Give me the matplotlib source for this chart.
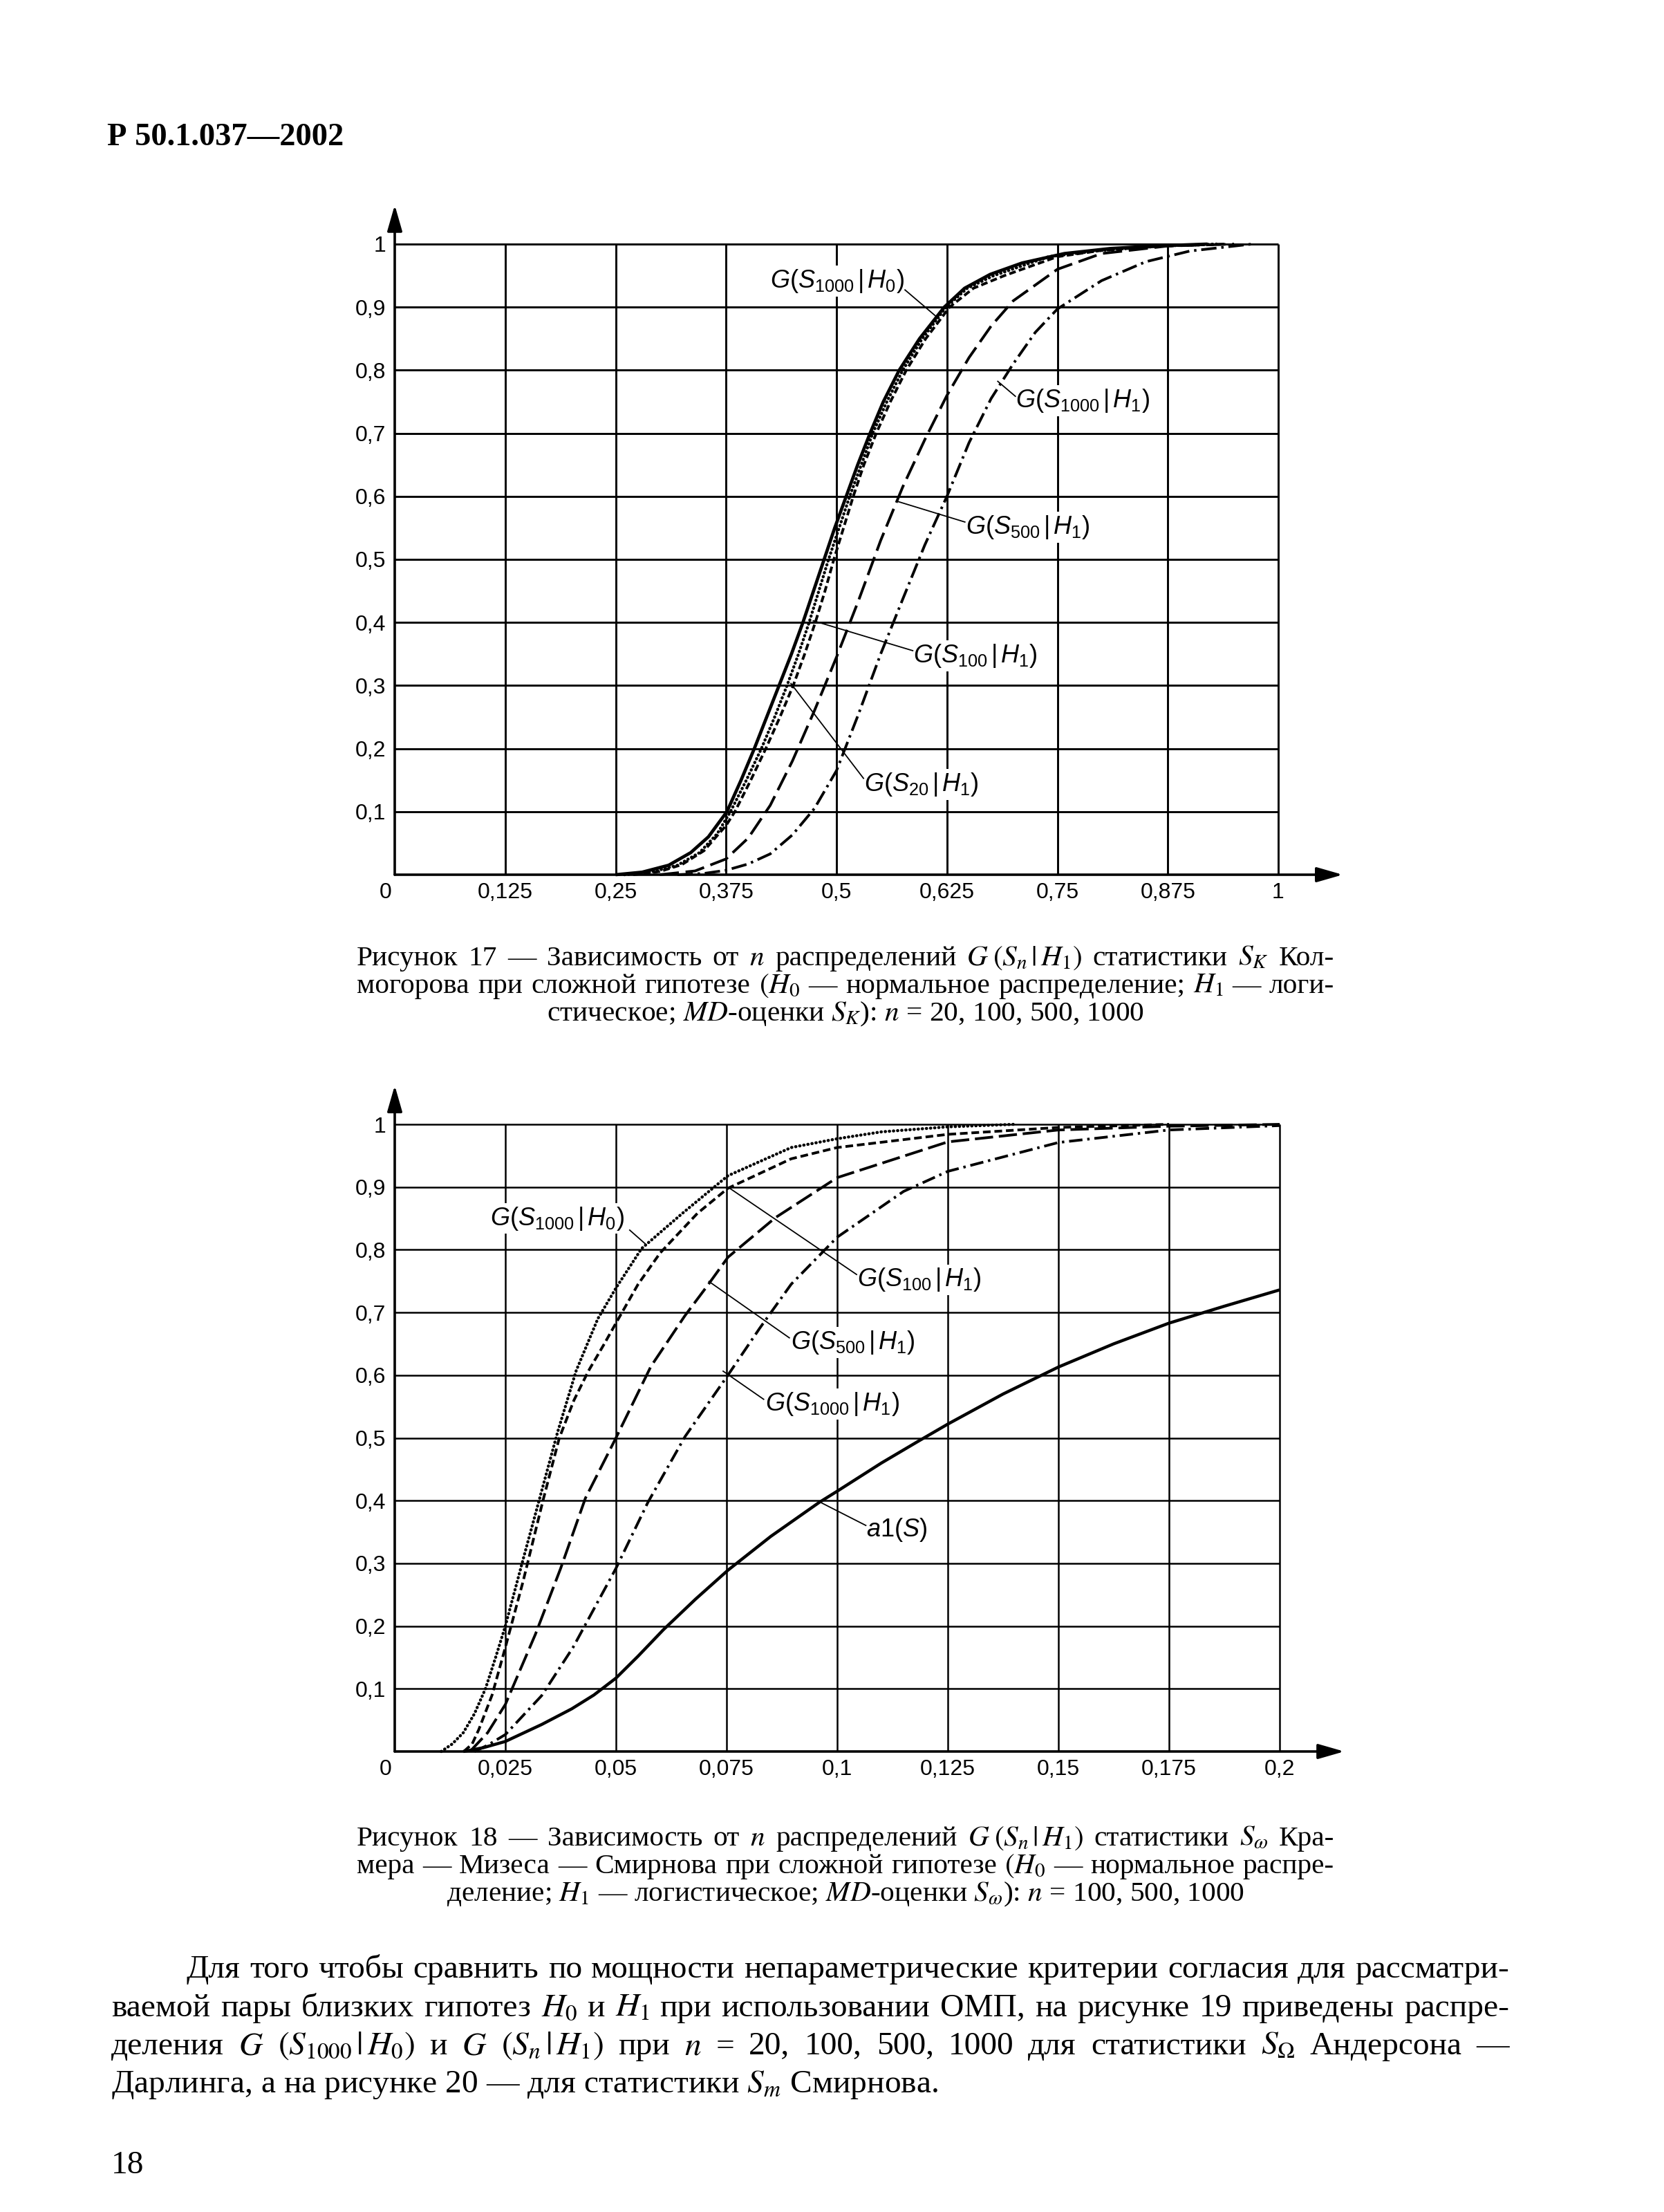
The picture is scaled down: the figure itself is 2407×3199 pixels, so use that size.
import numpy as np
import matplotlib
matplotlib.use("Agg")
import matplotlib.pyplot as plt

W, H, DPI = 2407, 3199, 100

# ---------------- data ----------------
y_ticks = [0.1, 0.2, 0.3, 0.4, 0.5, 0.6, 0.7, 0.8, 0.9, 1.0]
y_tick_labels = ["0,1", "0,2", "0,3", "0,4", "0,5", "0,6", "0,7", "0,8", "0,9", "1"]

k_x_ticks = [0.125, 0.25, 0.375, 0.5, 0.625, 0.75, 0.875, 1.0]
k_x_tick_labels = ["0,125", "0,25", "0,375", "0,5", "0,625", "0,75", "0,875", "1"]

w_x_ticks = [0.025, 0.05, 0.075, 0.1, 0.125, 0.15, 0.175, 0.2]
w_x_tick_labels = ["0,025", "0,05", "0,075", "0,1", "0,125", "0,15", "0,175", "0,2"]

# Figure 17 (Kolmogorov S_K)
k_h0_x = [0.25, 0.28, 0.31, 0.335, 0.355, 0.376, 0.392, 0.407, 0.421, 0.435, 0.449, 0.462, 0.474, 0.486,
          0.498, 0.511, 0.524, 0.538, 0.553, 0.571, 0.594, 0.622, 0.645, 0.674, 0.71, 0.758, 0.81, 0.86, 0.92]
k_h0_y = [0.0, 0.004, 0.015, 0.035, 0.06, 0.1, 0.15, 0.2, 0.25, 0.3, 0.35, 0.4, 0.45, 0.5,
          0.55, 0.6, 0.65, 0.7, 0.75, 0.8, 0.85, 0.9, 0.93, 0.952, 0.97, 0.985, 0.993, 0.997, 1.0]

k_s20_x = [0.26, 0.29, 0.32, 0.345, 0.365, 0.38, 0.398, 0.415, 0.43, 0.444, 0.457, 0.469, 0.48, 0.491,
           0.503, 0.515, 0.528, 0.541, 0.557, 0.575, 0.597, 0.624, 0.648, 0.678, 0.74, 0.80, 0.87, 0.93]
k_s20_y = [0.0, 0.004, 0.015, 0.035, 0.065, 0.1, 0.15, 0.2, 0.25, 0.3, 0.35, 0.4, 0.45, 0.5,
           0.55, 0.6, 0.65, 0.7, 0.75, 0.8, 0.85, 0.9, 0.93, 0.95, 0.98, 0.99, 0.997, 1.0]

k_s100_x = [0.27, 0.30, 0.325, 0.35, 0.375, 0.385, 0.403, 0.42, 0.436, 0.451, 0.464, 0.476, 0.487, 0.497,
            0.508, 0.519, 0.531, 0.545, 0.561, 0.579, 0.601, 0.628, 0.655, 0.69, 0.75, 0.80, 0.87, 0.94]
k_s100_y = [0.0, 0.005, 0.016, 0.038, 0.078, 0.1, 0.15, 0.2, 0.25, 0.3, 0.35, 0.4, 0.45, 0.5,
            0.55, 0.6, 0.65, 0.7, 0.75, 0.8, 0.85, 0.9, 0.93, 0.95, 0.98, 0.99, 0.997, 1.0]

k_s500_x = [0.30, 0.34, 0.375, 0.40, 0.425, 0.45, 0.475, 0.50, 0.525, 0.55, 0.575, 0.60, 0.625, 0.65,
            0.675, 0.70, 0.75, 0.80, 0.875, 0.95]
k_s500_y = [0.0, 0.006, 0.025, 0.058, 0.11, 0.18, 0.26, 0.345, 0.435, 0.53, 0.615, 0.69, 0.76, 0.82,
            0.87, 0.91, 0.96, 0.985, 0.997, 1.0]

k_s1000_x = [0.32, 0.35, 0.375, 0.40, 0.425, 0.45, 0.475, 0.50, 0.525, 0.55, 0.575, 0.60, 0.625, 0.65,
             0.675, 0.70, 0.725, 0.75, 0.80, 0.85, 0.90, 0.97]
k_s1000_y = [0.0, 0.002, 0.007, 0.017, 0.033, 0.063, 0.105, 0.165, 0.255, 0.35, 0.437, 0.523, 0.6, 0.685,
             0.755, 0.81, 0.86, 0.897, 0.942, 0.972, 0.989, 1.0]

# Figure 18 (Cramer-von Mises-Smirnov S_omega)
w_h0_x = [0.0105, 0.013, 0.0155, 0.018, 0.0205, 0.0228, 0.025, 0.029, 0.0325, 0.0368, 0.041, 0.0459,
          0.05, 0.0558, 0.065, 0.0753, 0.0896, 0.1, 0.11, 0.125, 0.14]
w_h0_y = [0.0, 0.012, 0.03, 0.06, 0.1, 0.15, 0.2, 0.306, 0.397, 0.509, 0.607, 0.69,
          0.739, 0.802, 0.858, 0.918, 0.963, 0.977, 0.988, 0.996, 1.0]

w_s100_x = [0.0156, 0.0175, 0.019, 0.022, 0.025, 0.029, 0.0335, 0.0372, 0.0405, 0.0438, 0.0472, 0.05,
            0.055, 0.06, 0.0684, 0.0753, 0.0896, 0.1, 0.125, 0.15, 0.175]
w_s100_y = [0.0, 0.012, 0.035, 0.09, 0.166, 0.271, 0.4, 0.5, 0.56, 0.607, 0.648, 0.683,
            0.745, 0.795, 0.858, 0.898, 0.945, 0.963, 0.984, 0.995, 1.0]

w_s500_x = [0.017, 0.021, 0.025, 0.0318, 0.0375, 0.0431, 0.05, 0.0579, 0.0656, 0.0706, 0.0753, 0.086,
            0.1, 0.125, 0.15, 0.175, 0.2]
w_s500_y = [0.0, 0.03, 0.075, 0.187, 0.292, 0.404, 0.5, 0.614, 0.695, 0.742, 0.788, 0.851,
            0.915, 0.972, 0.991, 0.997, 1.0]

w_s1000_x = [0.018, 0.021, 0.025, 0.0332, 0.0403, 0.05, 0.0572, 0.0656, 0.0753, 0.0825, 0.0896, 0.1,
             0.115, 0.125, 0.15, 0.175, 0.2]
w_s1000_y = [0.0, 0.01, 0.027, 0.089, 0.166, 0.292, 0.397, 0.502, 0.6, 0.675, 0.745, 0.82,
             0.893, 0.925, 0.971, 0.991, 0.998]

w_a1_x = [0.0155, 0.02, 0.025, 0.0332, 0.04, 0.045, 0.05, 0.055, 0.0607, 0.068, 0.0753, 0.085,
          0.0959, 0.1, 0.11, 0.1184, 0.125, 0.1375, 0.15, 0.1625, 0.175, 0.1875, 0.2]
w_a1_y = [0.0, 0.006, 0.016, 0.043, 0.068, 0.09, 0.117, 0.152, 0.194, 0.243, 0.289, 0.343,
          0.397, 0.415, 0.46, 0.495, 0.522, 0.57, 0.613, 0.65, 0.683, 0.71, 0.736]

# ---------------- style ----------------
plt.rcParams['font.family'] = ['Liberation Sans', 'DejaVu Sans']
plt.rcParams['mathtext.fontset'] = 'custom'
plt.rcParams['mathtext.rm'] = 'Liberation Sans'
plt.rcParams['mathtext.it'] = 'Liberation Sans:italic'
plt.rcParams['mathtext.bf'] = 'Liberation Sans:bold'
plt.rcParams['lines.scale_dashes'] = False
plt.rcParams['lines.solid_capstyle'] = 'butt'
SERIF = ['Liberation Serif', 'DejaVu Serif']

fig = plt.figure(figsize=(W / DPI, H / DPI), dpi=DPI, facecolor='white')


def add_axes_px(left, top, right, bottom):
    return fig.add_axes([left / W, 1 - bottom / H, (right - left) / W, (bottom - top) / H])


def setup_chart(ax, xmax, xticks, xlabels, grid_lw):
    ax.set_xlim(0, xmax)
    ax.set_ylim(0, 1)
    ax.patch.set_alpha(0)
    for s in ax.spines.values():
        s.set_visible(False)
    ax.vlines(xticks, 0, 1, colors='k', lw=grid_lw, zorder=1, clip_on=False)
    ax.hlines(y_ticks, 0, xmax, colors='k', lw=grid_lw, zorder=1, clip_on=False)
    ax.set_xticks(xticks, xlabels)
    ax.set_yticks(y_ticks, y_tick_labels)
    ax.tick_params(axis='both', length=0, labelsize=23)
    ax.tick_params(axis='x', pad=8)
    ax.tick_params(axis='y', pad=9)
    arrow_kw = dict(arrowstyle='-|>,head_length=1.15,head_width=0.33', color='k', lw=2.6,
                    mutation_scale=20, shrinkA=0, shrinkB=0)
    ax.annotate('', xy=(1.073, 0), xytext=(0, 0), xycoords='axes fraction',
                textcoords='axes fraction', arrowprops=arrow_kw, annotation_clip=False)
    ax.annotate('', xy=(0, 1.062), xytext=(0, 0), xycoords='axes fraction',
                textcoords='axes fraction', arrowprops=arrow_kw, annotation_clip=False)
    ax.annotate('0', xy=(0, 0), xycoords='axes fraction', xytext=(-9.5, -8),
                textcoords='offset points', ha='center', va='top', fontsize=23)


def curve_label(ax, text, x, y, x0, y0, x1, y1):
    ax.text(x, y, text, fontsize=26, ha='left', va='center', zorder=3,
            bbox=dict(boxstyle='square,pad=0.08', fc='white', ec='none'))
    ax.plot([x0, x1], [y0, y1], color='k', lw=1.3, zorder=3.5, clip_on=False)


LW = 2.8
DOT = dict(lw=3.2, ls=(0, (0.3, 4.0)), dash_capstyle='round')

# ---------- chart 1 ----------
ax1 = add_axes_px(571, 353, 1849, 1265)
setup_chart(ax1, 1.0, k_x_ticks, k_x_tick_labels, 2.1)
ax1.plot(k_s1000_x, k_s1000_y, color='k', lw=LW, ls=(0, (16, 5, 2.5, 5)), zorder=4, clip_on=False)
ax1.plot(k_s500_x, k_s500_y, color='k', lw=LW, ls=(0, (20, 7)), zorder=4, clip_on=False)
ax1.plot(k_s100_x, k_s100_y, color='k', lw=LW, ls=(0, (7, 3.5)), zorder=4, clip_on=False)
ax1.plot(k_s20_x, k_s20_y, color='k', zorder=4, clip_on=False, **DOT)
ax1.plot(k_h0_x, k_h0_y, color='k', lw=3.4, ls='-', zorder=4, clip_on=False)

curve_label(ax1, r'$G(S_{1000}\,|\,H_0)$', 0.425, 0.941, 0.577, 0.928, 0.613, 0.885)
curve_label(ax1, r'$G(S_{1000}\,|\,H_1)$', 0.703, 0.752, 0.682, 0.783, 0.703, 0.758)
curve_label(ax1, r'$G(S_{500}\,|\,H_1)$', 0.646, 0.551, 0.569, 0.592, 0.646, 0.559)
curve_label(ax1, r'$G(S_{100}\,|\,H_1)$', 0.587, 0.347, 0.473, 0.403, 0.587, 0.355)
curve_label(ax1, r'$G(S_{20}\,|\,H_1)$', 0.531, 0.143, 0.448, 0.304, 0.531, 0.152)

# ---------- chart 2 ----------
ax2 = add_axes_px(571, 1626, 1851, 2533)
setup_chart(ax2, 0.2, w_x_ticks, w_x_tick_labels, 1.8)
ax2.plot(w_a1_x, w_a1_y, color='k', lw=3.2, ls='-', zorder=4, clip_on=False)
ax2.plot(w_s1000_x, w_s1000_y, color='k', lw=LW, ls=(0, (14, 5, 2.5, 5)), zorder=4, clip_on=False)
ax2.plot(w_s500_x, w_s500_y, color='k', lw=LW, ls=(0, (19, 6)), zorder=4, clip_on=False)
ax2.plot(w_s100_x, w_s100_y, color='k', lw=LW, ls=(0, (8, 4)), zorder=4, clip_on=False)
ax2.plot(w_h0_x, w_h0_y, color='k', zorder=4, clip_on=False, **DOT)

curve_label(ax2, r'$G(S_{1000}\,|\,H_0)$', 0.0215, 0.85, 0.053, 0.832, 0.0567, 0.809)
curve_label(ax2, r'$G(S_{100}\,|\,H_1)$', 0.1045, 0.752, 0.0753, 0.9, 0.1045, 0.76)
curve_label(ax2, r'$G(S_{500}\,|\,H_1)$', 0.0895, 0.652, 0.0709, 0.75, 0.0893, 0.659)
curve_label(ax2, r'$G(S_{1000}\,|\,H_1)$', 0.0837, 0.554, 0.0741, 0.607, 0.0835, 0.561)
curve_label(ax2, r'$a1(S)$', 0.1066, 0.353, 0.0963, 0.397, 0.1066, 0.36)

# ---------------- page text ----------------
renderer = fig.canvas.get_renderer()


def mk(tok, size, x=0.0, y=0.0, ha='left', **kw):
    return fig.text(x, y, tok, fontsize=size, family=SERIF, math_fontfamily='stix',
                    va='baseline', ha=ha, **kw)


def width(tok, size):
    t = mk(tok, size)
    w = t.get_window_extent(renderer).width
    t.remove()
    return w


def fit_size(just_lines, max_size):
    size = max_size
    for tokens, xl, xr in just_lines:
        nat = sum(width(t, max_size) for t in tokens) + 0.25 * max_size * DPI / 72 * (len(tokens) - 1)
        size = min(size, max_size * (xr - xl) / nat * 0.99)
    return size


def draw_lines(lines, size):
    for kind, tokens, xl, xr, yb in lines:
        yf = 1 - yb / H
        if kind == 'j':
            objs = [mk(t, size, 0, yf) for t in tokens]
            ws = [o.get_window_extent(renderer).width for o in objs]
            gap = (xr - xl - sum(ws)) / (len(objs) - 1)
            x = xl
            for o, w in zip(objs, ws):
                o.set_x(x / W)
                x += w + gap
        elif kind == 'c':
            mk(tokens, size, (xl + xr) / 2 / W, yf, ha='center')
        else:
            mk(tokens, size, xl / W, yf)


# header
fig.text(155 / W, 1 - 210 / H, 'Р 50.1.037—2002', fontsize=33.5, family=SERIF, weight='bold',
         va='baseline', ha='left')

# caption 1
CX0, CX1 = 516, 1930
cap1 = [
    ('j', ['Рисунок', '17', '—', 'Зависимость', 'от', '$n$', 'распределений',
           r'$G\;(S_n\,|\,H_1)$', 'статистики', r'$S_K$', 'Кол-'], CX0, CX1, 1396),
    ('j', ['могорова', 'при', 'сложной', 'гипотезе', r'$(H_0$', '—', 'нормальное',
           'распределение;', r'$H_1$', '—', 'логи-'], CX0, CX1, 1436),
    ('c', r'стическое; $MD$-оценки $S_K$): $n$ = 20, 100, 500, 1000', CX0, CX1, 1476),
]
cap2 = [
    ('j', ['Рисунок', '18', '—', 'Зависимость', 'от', '$n$', 'распределений',
           r'$G\;(S_n\,|\,H_1)$', 'статистики', r'$S_\omega$', 'Кра-'], CX0, CX1, 2669),
    ('j', ['мера', '—', 'Мизеса', '—', 'Смирнова', 'при', 'сложной', 'гипотезе', r'$(H_0$',
           '—', 'нормальное', 'распре-'], CX0, CX1, 2709),
    ('c', r'деление; $H_1$ — логистическое; $MD$-оценки $S_\omega$): $n$ = 100, 500, 1000',
     CX0, CX1, 2749),
]
cap_size = fit_size([(l[1], l[2], l[3]) for l in cap1 + cap2 if l[0] == 'j'], 31)
draw_lines(cap1, cap_size)
draw_lines(cap2, cap_size)

# body paragraph
BX0, BX1 = 161, 2183
body = [
    ('j', ['Для', 'того', 'чтобы', 'сравнить', 'по', 'мощности', 'непараметрические', 'критерии',
           'согласия', 'для', 'рассматри-'], 270, BX1, 2860),
    ('j', ['ваемой', 'пары', 'близких', 'гипотез', r'$H_0$', 'и', r'$H_1$', 'при', 'использовании',
           'ОМП,', 'на', 'рисунке', '19', 'приведены', 'распре-'], BX0, BX1, 2916),
    ('j', ['деления', r'$G$', r'$(S_{1000}\,|\,H_0)$', 'и', r'$G$', r'$(S_n\,|\,H_1)$', 'при', '$n$',
           '=', '20,', '100,', '500,', '1000', 'для', 'статистики', r'$S_\Omega$', 'Андерсона', '—'],
     BX0, BX1, 2971),
    ('l', r'Дарлинга, а на рисунке 20 — для статистики $S_m$ Смирнова.', BX0, BX1, 3026),
]
body_size = fit_size([(l[1], l[2], l[3]) for l in body if l[0] == 'j'], 36)
draw_lines(body, body_size)

# page number
fig.text(161 / W, 1 - 3143 / H, '18', fontsize=body_size, family=SERIF, va='baseline', ha='left')

fig.savefig('out.png', dpi=DPI, facecolor='white')
